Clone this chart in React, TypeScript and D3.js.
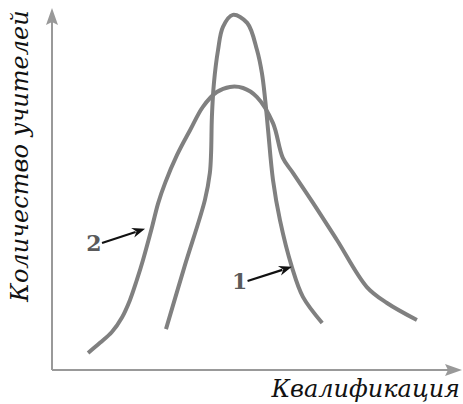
import * as d3 from 'd3';
import React, { useRef, useEffect } from 'react';

// curve 1 (narrow distribution), x = qualification, y = number of teachers
const curve1X = [27.8, 32.3, 37.3, 38.5, 38.8, 39.0, 39.5, 40.5, 41.7, 44.1, 47.6, 50.0, 51.2, 52.0, 52.7, 53.9, 55.6, 58.5, 61.2, 65.9]
const curve1Y = [11.3, 28.5, 47.0, 54.4, 59.9, 69.9, 79.3, 88.4, 94.8, 98.1, 95.9, 88.4, 82.0, 74.6, 66.3, 52.5, 41.4, 28.5, 20.2, 13.0]

// curve 2 (wide distribution)
const curve2X = [8.8, 11.7, 14.6, 17.1, 19.0, 20.7, 22.2, 24.4, 25.9, 27.6, 30.5, 33.7, 36.8, 40.2, 43.4, 46.6, 50.0, 53.9, 56.3, 58.8, 63.7, 69.5, 76.8, 81.7, 89.0]
const curve2Y = [4.7, 7.5, 10.5, 14.6, 19.3, 24.9, 30.4, 39.5, 46.1, 51.7, 59.4, 66.3, 72.7, 76.8, 78.2, 77.9, 75.4, 68.2, 58.6, 54.4, 46.1, 35.9, 22.9, 18.5, 13.8]

// callout labels: text, label anchor, arrow tip
const calloutText = ['1', '2']
const calloutFrom = [[47.7, 24.6], [12.2, 35.1]]
const calloutTo = [[58.5, 28.5], [22.7, 39.0]]

const xTitle = 'Квалификация'
const yTitle = 'Количество учителей'

export default function App() {
    const ref = useRef(null)

    useEffect(() => {
        d3.select(ref.current).selectAll('svg').remove()

        const W = 463
        const H = 404
        const origin = { x: 52, y: 370 }

        const svg = d3.select(ref.current)
            .append('svg')
            .attr('width', W)
            .attr('height', H)
            .style('position', 'absolute')
            .style('left', 0)
            .style('top', 0)
            .style('background', '#fff')

        const x = d3.scaleLinear().domain([0, 100]).range([origin.x, 462])
        const y = d3.scaleLinear().domain([0, 100]).range([origin.y, 8])

        const axisColor = '#999'
        const curveColor = '#808080'

        // axes
        svg.append('line')
            .attr('x1', origin.x).attr('y1', origin.y)
            .attr('x2', origin.x).attr('y2', y(100) + 10)
            .attr('stroke', axisColor).attr('stroke-width', 2)
        svg.append('line')
            .attr('x1', origin.x).attr('y1', origin.y)
            .attr('x2', x(100) - 10).attr('y2', origin.y)
            .attr('stroke', axisColor).attr('stroke-width', 2)

        const tx = origin.x, ty = y(100)
        svg.append('path')
            .attr('d', `M${tx},${ty} L${tx + 6},${ty + 17} L${tx},${ty + 14} L${tx - 6},${ty + 17} Z`)
            .attr('fill', axisColor)
        const rx = x(100), ry = origin.y
        svg.append('path')
            .attr('d', `M${rx},${ry} L${rx - 17},${ry - 6} L${rx - 14},${ry} L${rx - 17},${ry + 6} Z`)
            .attr('fill', axisColor)

        // curves
        const line = d3.line()
            .x(d => x(d[0]))
            .y(d => y(d[1]))
            .curve(d3.curveCatmullRom.alpha(0.5))

        const series = [
            d3.zip(curve1X, curve1Y),
            d3.zip(curve2X, curve2Y)
        ]
        svg.selectAll('path.curve')
            .data(series)
            .enter()
            .append('path')
            .attr('class', 'curve')
            .attr('d', line)
            .attr('fill', 'none')
            .attr('stroke', curveColor)
            .attr('stroke-width', 4)

        // callouts
        calloutText.forEach((t, i) => {
            const fx = x(calloutFrom[i][0]), fy = y(calloutFrom[i][1])
            const ex = x(calloutTo[i][0]), ey = y(calloutTo[i][1])
            svg.append('text')
                .attr('x', fx - 8)
                .attr('y', fy + 8)
                .attr('text-anchor', 'middle')
                .attr('font-family', '"DejaVu Serif", serif')
                .attr('font-weight', 'bold')
                .attr('font-size', 22)
                .attr('fill', '#5a5a5a')
                .text(t)
            const ang = Math.atan2(ey - fy, ex - fx)
            const hl = 13, hw = 5
            const bx = ex - hl * Math.cos(ang), by = ey - hl * Math.sin(ang)
            svg.append('line')
                .attr('x1', fx).attr('y1', fy)
                .attr('x2', bx + 3 * Math.cos(ang)).attr('y2', by + 3 * Math.sin(ang))
                .attr('stroke', '#111').attr('stroke-width', 2.2)
            const nx = -Math.sin(ang), ny = Math.cos(ang)
            svg.append('path')
                .attr('d', `M${ex},${ey} L${bx + nx * hw},${by + ny * hw} L${bx + 4 * Math.cos(ang)},${by + 4 * Math.sin(ang)} L${bx - nx * hw},${by - ny * hw} Z`)
                .attr('fill', '#111')
        })

        // titles
        svg.append('text')
            .attr('x', 460)
            .attr('y', 397)
            .attr('text-anchor', 'end')
            .attr('font-family', '"DejaVu Serif", serif')
            .attr('font-style', 'italic')
            .attr('font-size', 24)
            .attr('fill', '#111')
            .text(xTitle)

        svg.append('text')
            .attr('transform', 'translate(28,156) rotate(-90)')
            .attr('text-anchor', 'middle')
            .attr('font-family', '"DejaVu Serif", serif')
            .attr('font-style', 'italic')
            .attr('font-size', 24)
            .attr('fill', '#111')
            .text(yTitle)
    }, [])

    return <div ref={ref} />
}
